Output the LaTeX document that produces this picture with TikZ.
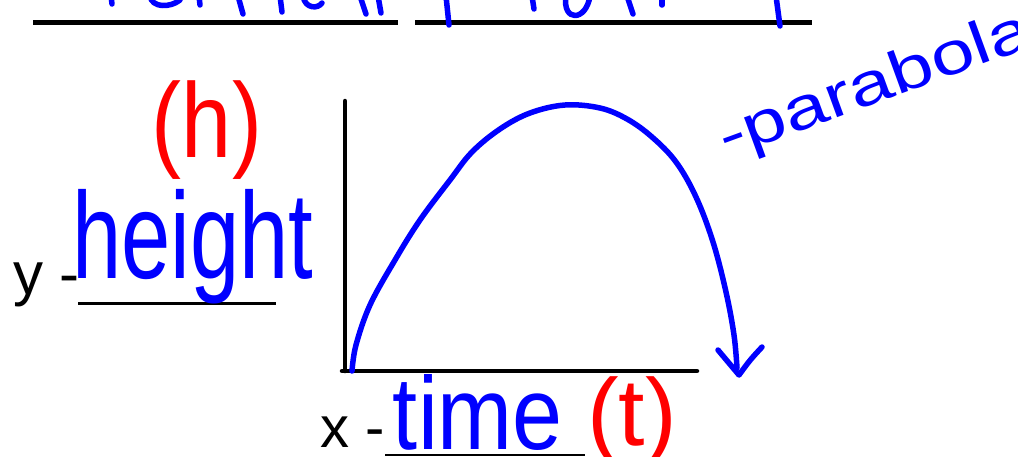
\documentclass[tikz,border=0pt]{standalone}
\usepackage{fontspec}
\setmainfont{Liberation Sans}
\usepackage{tikz}
\usetikzlibrary{arrows.meta}
\definecolor{inkblue}{RGB}{0, 0, 255}
\definecolor{inkred}{RGB}{255, 0, 0}
\newcommand{\inksize}[1]{\fontsize{#1}{#1}\selectfont}

\begin{document}
\begin{tikzpicture}[x=1pt, y=-1pt,
    ink/.style={inkblue, line width=5.5pt, line cap=round, line join=round},
    ruleline/.style={black, line width=#1},
    word/.style={inner sep=0pt, anchor=base}]
    \useasboundingbox (0,0) rectangle (1018,456);
    \clip (0,0) rectangle (1018,456);
    % blanks at the top, writing cut off above them
    \draw[ruleline=5pt] (33,22) -- (398,22);
    \draw[ruleline=5pt] (415,22) -- (812,22);
    \foreach \xa/\xb/\yb in {111/112/4, 199/200/5, 238/243/14, 280/282/12,
        360/366/14, 378/381/13, 446/449/25, 532/534/9, 627/633/14, 662/662/5, 776/780/26}
    {
        \draw[ink] (\xa,-4) -- (\xb,\yb);
    }
    \draw[ink] (150,-4) .. controls (152,8) and (170,8) .. (180,0);
    \draw[ink] (303,-4) .. controls (305,9) and (318,9) .. (322,3);
    \draw[ink] (566,-4) .. controls (562,22) and (586,22) .. (590,-4);
    % axes
    \coordinate (ytop) at (345,101);
    \coordinate (origin) at (345,371);
    \coordinate (xend) at (697,371);
    \draw[ruleline=4.5pt, line cap=round] (ytop) -- (origin);
    \draw[ruleline=4.5pt, line cap=round] (342,371) -- (xend);
    % path of the object
    \draw[ink] plot[smooth, tension=0.6] coordinates {(352,371) (356,345) (370,305)
        (395,260) (420,220) (450,180) (472,152) (500,129) (530,113) (565,105)
        (600,108) (627,119) (652,137) (676,162) (696,197) (713,242) (726,292)
        (734,335) (737,368)};
    \coordinate (tip) at (739,375);
    \draw[ink] (718,350) -- (tip) .. controls (750,360) .. (762,347);
    % labels
    \node[word, anchor=base west, font=\inksize{60}] (ylab) at (13,294) {y -};
    \draw[ruleline=3pt] (78,303) -- (276,303);
    \node[word, inkred, font=\inksize{106}, xscale=0.85] (hsym) at (207,157) {(h)};
    \node[word, inkblue, font=\inksize{123}, xscale=0.72] (height) at (193,278) {height};
    \node[word, anchor=base west, font=\inksize{58}] (xlab) at (320,447) {x -};
    \draw[ruleline=2pt] (385,455) -- (585,455);
    \node[word, inkblue, font=\inksize{90}, yscale=1.15] (time) at (478,449) {time};
    \node[word, inkred, font=\inksize{95}] (tsym) at (632,445) {(t)};
    \node[word, anchor=base west, inkblue, font=\inksize{60}, rotate=20, xscale=1.3] (parab) at (726,158) {-parabola};
\end{tikzpicture}
\end{document}
